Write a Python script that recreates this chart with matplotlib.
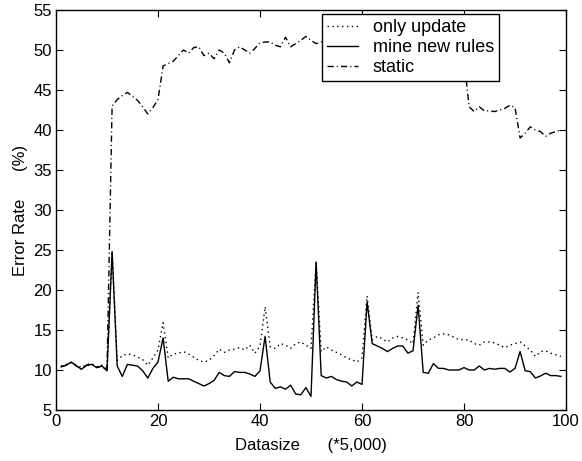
import numpy as np
import matplotlib
matplotlib.use("Agg")
import matplotlib.pyplot as plt

plt.rcParams["font.family"] = ["Liberation Sans", "DejaVu Sans"]

# data size index (*5,000)
datasize = list(range(1, 100))

only_update = [
    10.5, 10.7, 10.9, 10.6, 10.3, 10.7, 10.8, 10.4, 10.6, 10.1,
    24.8, 11.2, 11.8, 12.0, 11.9, 11.6, 11.3, 10.6, 11.5, 12.5,
    15.9, 11.5, 12.0, 12.1, 12.3, 12.0, 11.6, 11.2, 11.0, 11.2,
    11.8, 12.6, 12.2, 12.5, 12.6, 12.8, 12.5, 13.1, 12.1, 13.0,
    17.9, 12.9, 12.7, 13.3, 13.1, 12.7, 13.3, 13.5, 13.1, 12.7,
    23.5, 12.3, 12.9, 12.5, 12.2, 11.9, 11.5, 11.3, 11.0, 11.5,
    19.25, 13.75, 14.2, 13.9, 13.5, 14.0, 14.2, 14.0, 13.75, 13.3,
    19.7, 13.1, 13.75, 14.0, 14.4, 14.5, 14.4, 14.1, 13.8, 13.8,
    13.75, 13.3, 13.1, 13.5, 13.5, 13.4, 13.1, 12.8, 13.1, 13.3,
    13.5, 13.0, 12.5, 11.7, 12.3, 12.4, 12.1, 11.9, 11.7,
]

mine_new_rules = [
    10.4, 10.6, 11.0, 10.5, 10.1, 10.6, 10.7, 10.3, 10.5, 9.9,
    24.8, 10.5, 9.2, 10.7, 10.6, 10.5, 9.9, 9.0, 10.2, 11.0,
    14.0, 8.6, 9.1, 8.9, 8.9, 8.9, 8.6, 8.3, 8.0, 8.3,
    8.7, 9.7, 9.3, 9.2, 9.8, 9.7, 9.7, 9.5, 9.2, 9.9,
    14.2, 8.5, 7.7, 7.9, 7.6, 8.1, 7.0, 6.9, 7.8, 6.7,
    23.5, 9.3, 9.0, 9.2, 8.8, 8.6, 8.5, 8.0, 8.5, 8.2,
    18.5, 13.3, 13.0, 12.7, 12.3, 12.7, 13.0, 13.0, 12.1, 12.4,
    18.1, 9.7, 9.6, 10.8, 10.2, 10.2, 10.0, 10.0, 10.0, 10.3,
    10.0, 10.0, 10.5, 10.0, 10.2, 10.1, 10.2, 10.2, 9.75, 10.2,
    12.3, 9.9, 9.8, 9.0, 9.25, 9.6, 9.3, 9.3, 9.2,
]

static = [
    10.4, 10.6, 11.0, 10.5, 10.1, 10.6, 10.7, 10.3, 10.5, 9.9,
    43.0, 43.8, 44.3, 44.7, 44.2, 43.7, 42.9, 42.0, 42.8, 43.8,
    48.0, 48.3, 48.6, 49.3, 50.0, 49.6, 50.3, 50.4, 49.3, 49.6,
    48.9, 50.0, 49.6, 48.4, 50.0, 50.4, 50.0, 49.6, 50.2, 50.9,
    51.0, 51.0, 50.6, 50.4, 51.6, 50.4, 50.8, 51.2, 51.7, 51.2,
    50.8, 51.0, 51.3, 50.9, 51.0, 51.4, 50.8, 51.2, 50.6, 50.9,
    50.3, 50.6, 50.0, 50.4, 49.8, 50.1, 49.6, 49.9, 49.3, 49.6,
    49.0, 49.3, 48.8, 49.1, 48.6, 48.9, 48.4, 48.7, 48.5, 48.8,
    42.9, 42.3, 42.9, 42.4, 42.4, 42.3, 42.5, 42.7, 43.1, 42.8,
    39.0, 39.6, 40.4, 40.0, 39.8, 39.2, 39.6, 39.8, 40.0,
]

fig = plt.figure(figsize=(5.82, 4.61), dpi=100)
ax = fig.add_axes([56 / 582, 51 / 461, 510 / 582, 400 / 461])

ax.plot(datasize, only_update, color="black", linewidth=1.0,
        linestyle=(0, (1, 2.5)), label="only update")
ax.plot(datasize, mine_new_rules, color="black", linewidth=1.0,
        linestyle="-", label="mine new rules")
ax.plot(datasize, static, color="black", linewidth=1.0,
        linestyle=(0, (4.5, 2.2, 0.8, 2.2)), label="static")

ax.set_xlim(0, 100)
ax.set_ylim(5, 55)
ax.set_xticks(np.arange(0, 101, 20))
ax.set_yticks(np.arange(5, 56, 5))

ax.tick_params(direction="in", top=True, right=True, length=5, width=0.8,
               labelsize=12, pad=3)
for spine in ax.spines.values():
    spine.set_linewidth(1.0)

ax.set_xlabel("Datasize      (*5,000)", fontsize=12, labelpad=6)
ax.set_ylabel("Error Rate      (%)", fontsize=12, labelpad=4)

leg = ax.legend(loc="upper left", bbox_to_anchor=(266 / 510, 396 / 400),
                fontsize=13, frameon=True, fancybox=False, framealpha=1,
                edgecolor="black", borderaxespad=0, handlelength=1.7,
                handletextpad=0.8, labelspacing=0.15, borderpad=0.3)
leg.get_frame().set_linewidth(1.0)

fig.savefig("out.png", dpi=100)
